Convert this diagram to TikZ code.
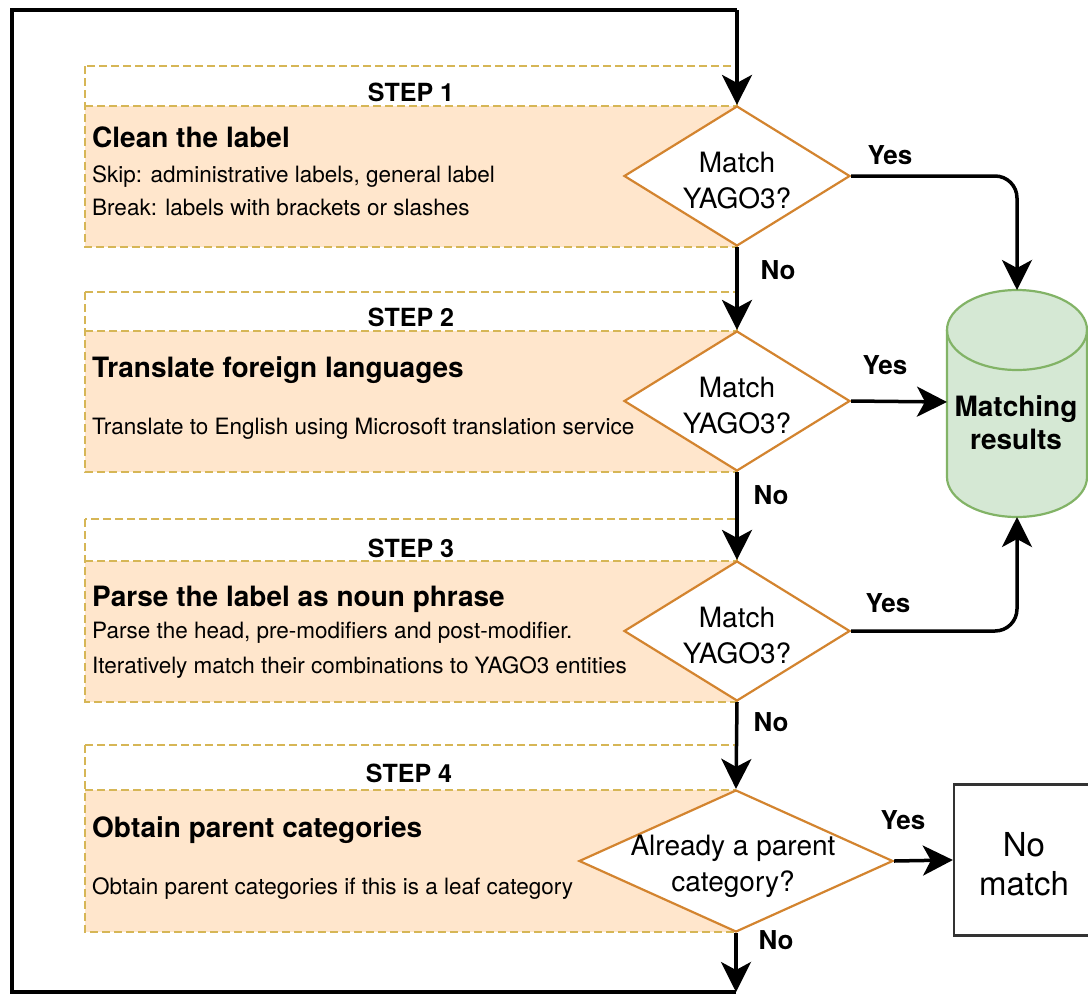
\documentclass[tikz,border=0pt]{standalone}
\usepackage{fontspec}
\setmainfont{TeX Gyre Heros}
\usetikzlibrary{arrows.meta,shapes.geometric}
\definecolor{boxfill}{HTML}{FFE6CC}
\definecolor{boxline}{HTML}{D6B656}
\definecolor{diaml}{HTML}{D3842F}
\definecolor{cylfill}{HTML}{D5E8D4}
\definecolor{cylline}{HTML}{82B366}
\definecolor{nmline}{HTML}{333333}
\tikzset{
  arr/.style={line width=3.5pt, -{Stealth[length=30pt,width=30pt,inset=8pt]}},
  loopline/.style={line width=3.5pt},
  stepbox/.style={draw=boxline, dash pattern=on 8pt off 4pt, line width=2.2pt},
  dia/.style={diamond, draw=diaml, fill=white, line width=2.2pt, minimum width=226pt, minimum height=140pt, inner sep=0pt},
  ttl/.style={font=\bfseries\fontsize{28}{34}\selectfont, anchor=base west, inner sep=0pt},
  bodytxt/.style={font=\fontsize{22.5}{33}\selectfont, anchor=base west, inner sep=0pt},
  steplbl/.style={font=\bfseries\fontsize{25}{30}\selectfont, anchor=base, inner sep=0pt},
  yn/.style={font=\bfseries\fontsize{26}{30}\selectfont, inner sep=0pt},
  dtext/.style={font=\fontsize{28}{36}\selectfont, align=center, inner sep=0pt},
}
\begin{document}
\begin{tikzpicture}[x=1pt,y=-1pt]
\useasboundingbox (0,0) rectangle (1088,994);
\clip (0,0) rectangle (1088,994);
\fill[white] (0,0) rectangle (1088,994);

% ---------- step boxes ----------
% Step 1
\fill[boxfill] (85,106) rectangle (737,247);
\draw[stepbox] (85,66) rectangle (737,247);
\draw[stepbox] (85,106) -- (737,106);
\node[steplbl] (s1) at (411,101) {STEP 1};
\node[ttl] (t1) at (92,147) {Clean the label};
\node[bodytxt] (b1a) at (92,182) {Skip: administrative labels, general label};
\node[bodytxt] (b1b) at (92,215) {Break: labels with brackets or slashes};

% Step 2
\fill[boxfill] (85,331) rectangle (737,472);
\draw[stepbox] (85,292) rectangle (737,472);
\draw[stepbox] (85,331) -- (737,331);
\node[steplbl] (s2) at (411,326) {STEP 2};
\node[ttl] (t2) at (92,377) {Translate foreign languages};
\node[bodytxt] (b2a) at (92,434) {Translate to English using Microsoft translation service};

% Step 3
\fill[boxfill] (85,561) rectangle (737,702);
\draw[stepbox] (85,519) rectangle (737,702);
\draw[stepbox] (85,561) -- (737,561);
\node[steplbl] (s3) at (411,557) {STEP 3};
\node[ttl] (t3) at (92,606) {Parse the label as noun phrase};
\node[bodytxt] (b3a) at (92,638) {Parse the head, pre-modifiers and post-modifier.};
\node[bodytxt] (b3b) at (92,673) {Iteratively match their combinations to YAGO3 entities};

% Step 4
\fill[boxfill] (85,790) rectangle (736,932);
\draw[stepbox] (85,745) rectangle (736,932);
\draw[stepbox] (85,790) -- (736,790);
\node[steplbl] (s4) at (409,782) {STEP 4};
\node[ttl] (t4) at (92,837) {Obtain parent categories};
\node[bodytxt] (b4a) at (92,894) {Obtain parent categories if this is a leaf category};

% ---------- diamonds ----------
\node[dia] (d1) at (737,176) {};
\node[dtext] (d1t) at (737,181) {Match\\YAGO3?};
\node[dia] (d2) at (737,401) {};
\node[dtext] (d2t) at (737,406) {Match\\YAGO3?};
\node[dia] (d3) at (737,631) {};
\node[dtext] (d3t) at (737,636) {Match\\YAGO3?};
\node[dia, minimum width=314pt, minimum height=142pt] (d4) at (736,861) {};
\node[dtext] (d4t) at (733,866) {Already a parent\\category?};

% ---------- cylinder ----------
\coordinate (cyltop) at (1017,290);
\coordinate (cylbot) at (1017,517);
\coordinate (cylleft) at (947,402);
\filldraw[fill=cylfill, draw=cylline, line width=2.2pt]
  (947,330) -- (947,477) arc[start angle=180, end angle=0, x radius=70, y radius=40]
  -- (1087,330) arc[start angle=0, end angle=-180, x radius=70, y radius=40] -- cycle;
\draw[cylline, line width=2.2pt] (947,330) arc[start angle=180, end angle=0, x radius=70, y radius=40];
\node[font=\bfseries\fontsize{28}{33}\selectfont, align=center, inner sep=0pt] (mr) at (1016,423) {Matching\\results};

% ---------- no match box ----------
\node[draw=nmline, line width=2.2pt, fill=white, minimum width=150pt, minimum height=151pt, inner sep=0pt] (nm) at (1029,860) {};
\node[font=\fontsize{33}{39}\selectfont, align=center, inner sep=0pt] (nmt) at (1024,864) {No\\match};

% ---------- connectors ----------
\draw[arr] (d1.south) -- (d2.north);
\draw[arr] (d2.south) -- (d3.north);
\draw[arr] (d3.south) -- (d4.north);
\draw[arr, rounded corners=22pt] (d1.east) -| (cyltop);
\draw[arr] (d2.east) -- (cylleft);
\draw[arr, rounded corners=22pt] (d3.east) -| (cylbot);
\draw[arr] (d4.east) -- (nm.west);

\coordinate (bot) at (736,992);
\coordinate (bl) at (12,992);
\coordinate (tl) at (12,10);
\coordinate (tr) at (737,10);
\draw[arr] (d4.south) -- (bot);
\draw[loopline] (bot) -- (bl) -- (tl) -- (tr);
\draw[arr] (tr) -- (d1.north);

% ---------- labels ----------
\node[yn] (y1) at (890,155) {Yes};
\node[yn] (y2) at (885,365) {Yes};
\node[yn] (y3) at (888,603) {Yes};
\node[yn] (y4) at (903,820) {Yes};
\node[yn] (n1) at (778,270) {No};
\node[yn] (n2) at (771,495) {No};
\node[yn] (n3) at (771,722) {No};
\node[yn] (n4) at (776,940) {No};
\end{tikzpicture}
\end{document}
